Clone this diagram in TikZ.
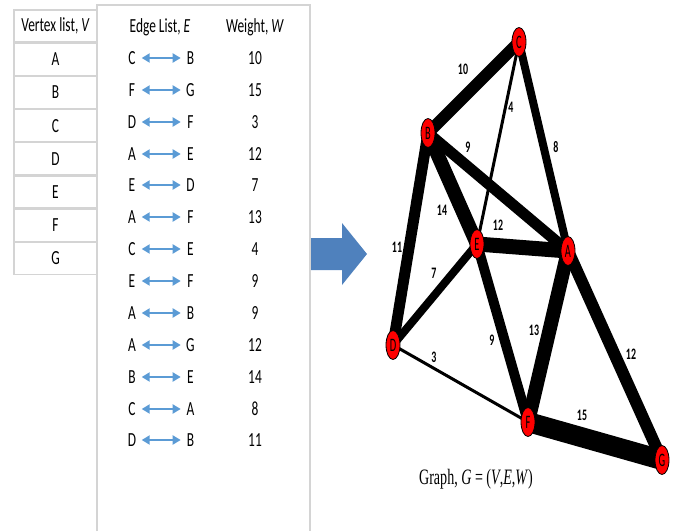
\documentclass[tikz,border=0pt]{standalone}
\usepackage{fontspec}
\setmainfont{Carlito}
\newfontfamily\tabfont[FakeStretch=0.67]{Carlito}
\newfontfamily\graphfont[FakeStretch=0.55]{Carlito}
\newfontfamily\wfont[FakeStretch=0.62]{Carlito}
\newfontfamily\capfont[FakeStretch=0.64]{Liberation Serif}
\usepackage{tikz}
\usetikzlibrary{arrows.meta,positioning,shapes.geometric,backgrounds}
\definecolor{gridgray}{HTML}{D4D4D4}
\definecolor{arrowblue}{HTML}{5B9BD5}
\definecolor{steel}{HTML}{4F81BD}
\definecolor{vred}{HTML}{FF0000}
\tikzset{
  vcell/.style={
    draw=gridgray,line width=1.2pt,
    minimum width=83pt,minimum height=32pt,inner sep=0pt,
    font=\tabfont\fontsize{20}{20}\selectfont
  },
  tabtext/.style={
    inner sep=0pt,minimum width=9pt,
    font=\tabfont\fontsize{20}{20}\selectfont
  },
  pair/.style={
    {Triangle[length=8pt,width=9pt]}-{Triangle[length=8pt,width=9pt]},
    draw=arrowblue,line width=2pt,shorten <=5pt,shorten >=5pt
  },
  vertex/.style={
    ellipse,draw=black,line width=.8pt,fill=vred,
    minimum width=14pt,minimum height=29pt,inner sep=0pt,
    font=\graphfont\fontsize{19}{19}\selectfont
  },
  link/.style={draw=black,line width=#1},
  wlabel/.style={inner sep=0pt,font=\wfont\bfseries\fontsize{16}{16}\selectfont}
}

\begin{document}
\begin{tikzpicture}[x=1pt,y=1pt]
\useasboundingbox (0,0) rectangle (674,531);

% vertex list
\node[vcell] (vh) at (55.5,505) {Vertex list, \textit{V}};
\node[vcell,below=0pt of vh] (va) {A};
\node[vcell,below=0pt of va] (vb) {B};
\node[vcell,below=0pt of vb] (vc) {C};
\node[vcell,below=0pt of vc] (vd) {D};
\node[vcell,below=0pt of vd] (ve) {E};
\node[vcell,below=0pt of ve] (vf) {F};
\node[vcell,below=0pt of vf] (vg) {G};

% edge list panel
\draw[draw=gridgray,line width=1.2pt] (97,0) -- (97,526) -- (310,526) -- (310,0);
\node[tabtext] (eh) at (160,504) {Edge List, \textit{E}};
\node[tabtext] (wh) at (255,504) {Weight, \textit{W}};

\node[tabtext] (l1) at (132,473) {C};
\node[tabtext,right=49pt of l1] (r1) {B};
\node[tabtext] (w1) at (l1 -| wh) {10};
\node[tabtext] (l2) at (132,441) {F};
\node[tabtext,right=49pt of l2] (r2) {G};
\node[tabtext] (w2) at (l2 -| wh) {15};
\node[tabtext] (l3) at (132,409) {D};
\node[tabtext,right=49pt of l3] (r3) {F};
\node[tabtext] (w3) at (l3 -| wh) {3};
\node[tabtext] (l4) at (132,377) {A};
\node[tabtext,right=49pt of l4] (r4) {E};
\node[tabtext] (w4) at (l4 -| wh) {12};
\node[tabtext] (l5) at (132,346) {E};
\node[tabtext,right=49pt of l5] (r5) {D};
\node[tabtext] (w5) at (l5 -| wh) {7};
\node[tabtext] (l6) at (132,314) {A};
\node[tabtext,right=49pt of l6] (r6) {F};
\node[tabtext] (w6) at (l6 -| wh) {13};
\node[tabtext] (l7) at (132,282) {C};
\node[tabtext,right=49pt of l7] (r7) {E};
\node[tabtext] (w7) at (l7 -| wh) {4};
\node[tabtext] (l8) at (132,250) {E};
\node[tabtext,right=49pt of l8] (r8) {F};
\node[tabtext] (w8) at (l8 -| wh) {9};
\node[tabtext] (l9) at (132,218) {A};
\node[tabtext,right=49pt of l9] (r9) {B};
\node[tabtext] (w9) at (l9 -| wh) {9};
\node[tabtext] (l10) at (132,186) {A};
\node[tabtext,right=49pt of l10] (r10) {G};
\node[tabtext] (w10) at (l10 -| wh) {12};
\node[tabtext] (l11) at (132,154) {B};
\node[tabtext,right=49pt of l11] (r11) {E};
\node[tabtext] (w11) at (l11 -| wh) {14};
\node[tabtext] (l12) at (132,122) {C};
\node[tabtext,right=49pt of l12] (r12) {A};
\node[tabtext] (w12) at (l12 -| wh) {8};
\node[tabtext] (l13) at (132,91) {D};
\node[tabtext,right=49pt of l13] (r13) {B};
\node[tabtext] (w13) at (l13 -| wh) {11};

\draw[pair] (l1) -- (r1);
\draw[pair] (l2) -- (r2);
\draw[pair] (l3) -- (r3);
\draw[pair] (l4) -- (r4);
\draw[pair] (l5) -- (r5);
\draw[pair] (l6) -- (r6);
\draw[pair] (l7) -- (r7);
\draw[pair] (l8) -- (r8);
\draw[pair] (l9) -- (r9);
\draw[pair] (l10) -- (r10);
\draw[pair] (l11) -- (r11);
\draw[pair] (l12) -- (r12);
\draw[pair] (l13) -- (r13);

% block arrow
\fill[steel] (311,293) -- (342,293) -- (342,308) -- (367,277)
  -- (342,246) -- (342,261) -- (311,261) -- cycle;

% graph
\node[vertex] (C) at (519,489) {C};
\node[vertex] (B) at (428,398) {B};
\node[vertex] (E) at (477,287) {E};
\node[vertex] (A) at (568,280) {A};
\node[vertex] (D) at (393,186) {D};
\node[vertex] (F) at (528,109) {F};
\node[vertex] (G) at (662,71) {G};

\begin{scope}[on background layer]
\draw[link=12pt] (C.center) -- (B.center);
\draw[link=20pt] (F.center) -- (G.center);
\draw[link=3pt] (D.center) -- (F.center);
\draw[link=15pt] (A.center) -- (E.center);
\draw[link=8pt] (E.center) -- (D.center);
\draw[link=14pt] (A.center) -- (F.center);
\draw[link=3pt] (C.center) -- (E.center);
\draw[link=10pt] (E.center) -- (F.center);
\draw[link=11pt] (A.center) -- (B.center);
\draw[link=12pt] (A.center) -- (G.center);
\draw[link=14pt] (B.center) -- (E.center);
\draw[link=8pt] (C.center) -- (A.center);
\draw[link=11pt] (D.center) -- (B.center);
\end{scope}

\node[wlabel] (wCB) at (463,462) {10};
\node[wlabel] (wCE) at (511,424) {4};
\node[wlabel] (wCA) at (556,384) {8};
\node[wlabel] (wAB) at (468,384) {9};
\node[wlabel] (wBE) at (442,321) {14};
\node[wlabel] (wAE) at (498,306) {12};
\node[wlabel] (wDB) at (397,284) {11};
\node[wlabel] (wED) at (434,258) {7};
\node[wlabel] (wEF) at (492,191) {9};
\node[wlabel] (wAF) at (534,201) {13};
\node[wlabel] (wAG) at (631,177) {12};
\node[wlabel] (wDF) at (434,174) {3};
\node[wlabel] (wFG) at (582,116) {15};

\node[font=\capfont\fontsize{22}{22}\selectfont] (cap) at (476,52)
  {Graph, \textit{G} = (\textit{V},\textit{E},\textit{W})};
\end{tikzpicture}
\end{document}
